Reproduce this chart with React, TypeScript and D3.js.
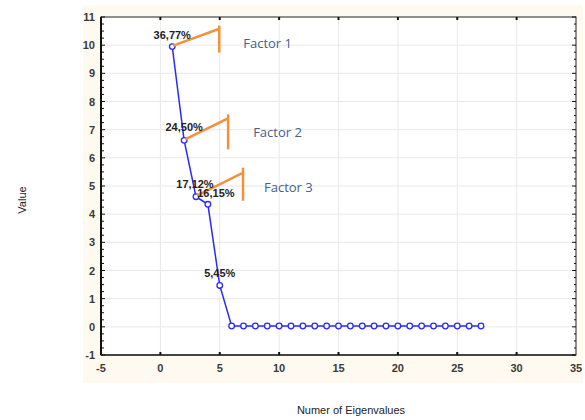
import * as d3 from "d3";
import { useEffect, useRef } from "react";

const W = 585;
const H = 420;

// eigenvalues, one per component (1..27)
const components = d3.range(1, 28);
const eigenvalues = [
  9.95, 6.62, 4.62, 4.35, 1.47,
  0.03, 0.03, 0.03, 0.03, 0.03, 0.03, 0.03, 0.03, 0.03, 0.03, 0.03,
  0.03, 0.03, 0.03, 0.03, 0.03, 0.03, 0.03, 0.03, 0.03, 0.03, 0.03,
];

const pctLabels = [
  { i: 0, text: "36,77%", dx: 0, dy: -8 },
  { i: 1, text: "24,50%", dx: 0, dy: -9 },
  { i: 2, text: "17,12%", dx: -1, dy: -9 },
  { i: 3, text: "16,15%", dx: 8, dy: -7 },
  { i: 4, text: "5,45%", dx: 0, dy: -8 },
];

const factorNames = ["Factor 1", "Factor 2", "Factor 3"];

const xTicks = [-5, 0, 5, 10, 15, 20, 25, 30, 35];
const yTicks = d3.range(-1, 12);

const margin = { top: 17, right: 9, bottom: 65, left: 101 };

const App = () => {
  const ref = useRef<SVGSVGElement>(null);

  useEffect(() => {
    const svg = d3.select(ref.current);
    svg.selectAll("*").remove();

    const x = d3.scaleLinear().domain([-5, 35]).range([margin.left, W - margin.right]);
    const y = d3.scaleLinear().domain([-1, 11]).range([H - margin.bottom, margin.top]);

    // cream panel behind axes
    svg.append("rect")
      .attr("x", 83).attr("y", 5)
      .attr("width", W - 85).attr("height", 378)
      .attr("fill", "#fffaf0");

    svg.append("rect")
      .attr("x", x(-5)).attr("y", y(11))
      .attr("width", x(35) - x(-5)).attr("height", y(-1) - y(11))
      .attr("fill", "#fff");

    // grid
    const grid = svg.append("g").attr("stroke", "#e8e8e8").attr("stroke-width", 1);
    yTicks.slice(1, -1).forEach(v => {
      grid.append("line")
        .attr("x1", x(-5)).attr("x2", x(35))
        .attr("y1", y(v)).attr("y2", y(v));
    });
    xTicks.slice(1, -1).forEach(v => {
      grid.append("line")
        .attr("x1", x(v)).attr("x2", x(v))
        .attr("y1", y(-1)).attr("y2", y(11));
    });

    // frame
    svg.append("rect")
      .attr("x", x(-5)).attr("y", y(11))
      .attr("width", x(35) - x(-5)).attr("height", y(-1) - y(11))
      .attr("fill", "none").attr("stroke", "#222").attr("stroke-width", 1);
    svg.append("line")
      .attr("x1", x(-5)).attr("x2", x(-5)).attr("y1", y(11)).attr("y2", y(-1))
      .attr("stroke", "#111").attr("stroke-width", 2);
    svg.append("line")
      .attr("x1", x(-5)).attr("x2", x(35)).attr("y1", y(-1)).attr("y2", y(-1))
      .attr("stroke", "#444").attr("stroke-width", 2);

    // minor ticks on left and right
    const minor = d3.range(-1, 11.01, 0.25);
    const tk = svg.append("g").attr("stroke", "#111").attr("stroke-width", 1);
    minor.forEach(v => {
      const major = Math.abs(v - Math.round(v)) < 1e-6;
      tk.append("line")
        .attr("x1", x(-5)).attr("x2", x(-5) + (major ? 4 : 3))
        .attr("y1", y(v)).attr("y2", y(v));
      tk.append("line")
        .attr("x1", x(35)).attr("x2", x(35) - (major ? 4 : 2))
        .attr("y1", y(v)).attr("y2", y(v));
    });
    xTicks.slice(1, -1).forEach(v => {
      tk.append("line")
        .attr("x1", x(v)).attr("x2", x(v))
        .attr("y1", y(-1)).attr("y2", y(-1) - 3)
        .attr("stroke-width", 2);
      tk.append("line")
        .attr("x1", x(v)).attr("x2", x(v))
        .attr("y1", y(11)).attr("y2", y(11) + 3)
        .attr("stroke-width", 2);
    });

    // tick labels
    const font = "'Liberation Sans', Arial, sans-serif";
    svg.append("g").selectAll("text")
      .data(yTicks)
      .enter()
      .append("text")
      .attr("x", x(-5) - 6)
      .attr("y", d => y(d) + 4)
      .attr("text-anchor", "end")
      .style("font", `bold 11px ${font}`)
      .style("fill", "#3a3a3a")
      .text(d => d);

    svg.append("g").selectAll("text")
      .data(xTicks)
      .enter()
      .append("text")
      .attr("x", d => x(d))
      .attr("y", y(-1) + 17)
      .attr("text-anchor", "middle")
      .style("font", `bold 11px ${font}`)
      .style("fill", "#3a3a3a")
      .text(d => d);

    // axis titles
    svg.append("text")
      .attr("transform", `translate(26, 200) rotate(-90)`)
      .attr("text-anchor", "middle")
      .style("font", `11px ${font}`)
      .style("fill", "#222")
      .text("Value");
    svg.append("text")
      .attr("x", 351).attr("y", 414)
      .attr("text-anchor", "middle")
      .style("font", `11px ${font}`)
      .style("fill", "#222")
      .text("Numer of Eigenvalues");

    // scree line
    const pts: [number, number][] = components.map((c, i) => [c, eigenvalues[i]]);
    const line = d3.line<[number, number]>().x(d => x(d[0])).y(d => y(d[1]));
    svg.append("path")
      .attr("d", line(pts))
      .attr("fill", "none")
      .attr("stroke", "#2a2aff")
      .attr("stroke-width", 1.5);
    svg.append("g").selectAll("circle")
      .data(pts)
      .enter()
      .append("circle")
      .attr("cx", d => x(d[0]))
      .attr("cy", d => y(d[1]))
      .attr("r", 2.8)
      .attr("fill", "#fff")
      .attr("stroke", "#2a2aff")
      .attr("stroke-width", 1.3);

    // orange callouts
    const callouts = [
      { i: 0, dxUp: 44, dyUp: -16, top: -20, bottom: 7, tx: 26 },
      { i: 1, dxUp: 41, dyUp: -20, top: -25, bottom: 10, tx: 27 },
      { i: 2, dxUp: 44, dyUp: -22, top: -28, bottom: 5, tx: 23 },
    ];
    callouts.forEach((c, k) => {
      const px = x(components[c.i]) + 1;
      const py = y(eigenvalues[c.i]) - 1;
      const ex = px + c.dxUp;
      const ey = py + c.dyUp;
      svg.append("path")
        .attr("d", `M${px},${py}L${ex},${ey}L${ex + 2},${ey}`)
        .attr("fill", "none")
        .attr("stroke", "#f5903a")
        .attr("stroke-width", 2.5);
      svg.append("line")
        .attr("x1", ex + 2).attr("x2", ex + 2)
        .attr("y1", py + c.top).attr("y2", py + c.bottom)
        .attr("stroke", "#f5903a")
        .attr("stroke-width", 2.5);
      svg.append("text")
        .attr("x", ex + c.tx)
        .attr("y", py + c.dyUp + 18)
        .style("font", `13px 'Open Sans', 'Noto Sans', sans-serif`)
        .style("fill", "#44618f")
        .text(factorNames[k]);
    });

    // percent labels
    pctLabels.forEach(p => {
      svg.append("text")
        .attr("x", x(components[p.i]) + p.dx)
        .attr("y", y(eigenvalues[p.i]) + p.dy)
        .attr("text-anchor", "middle")
        .style("font", `bold 11px ${font}`)
        .style("fill", "#222")
        .text(p.text);
    });
  }, []);

  return (
    <svg
      ref={ref}
      width={W}
      height={H}
      style={{ position: "absolute", left: 0, top: 0, background: "#fff" }}
    ></svg>
  );
};

export default App;
